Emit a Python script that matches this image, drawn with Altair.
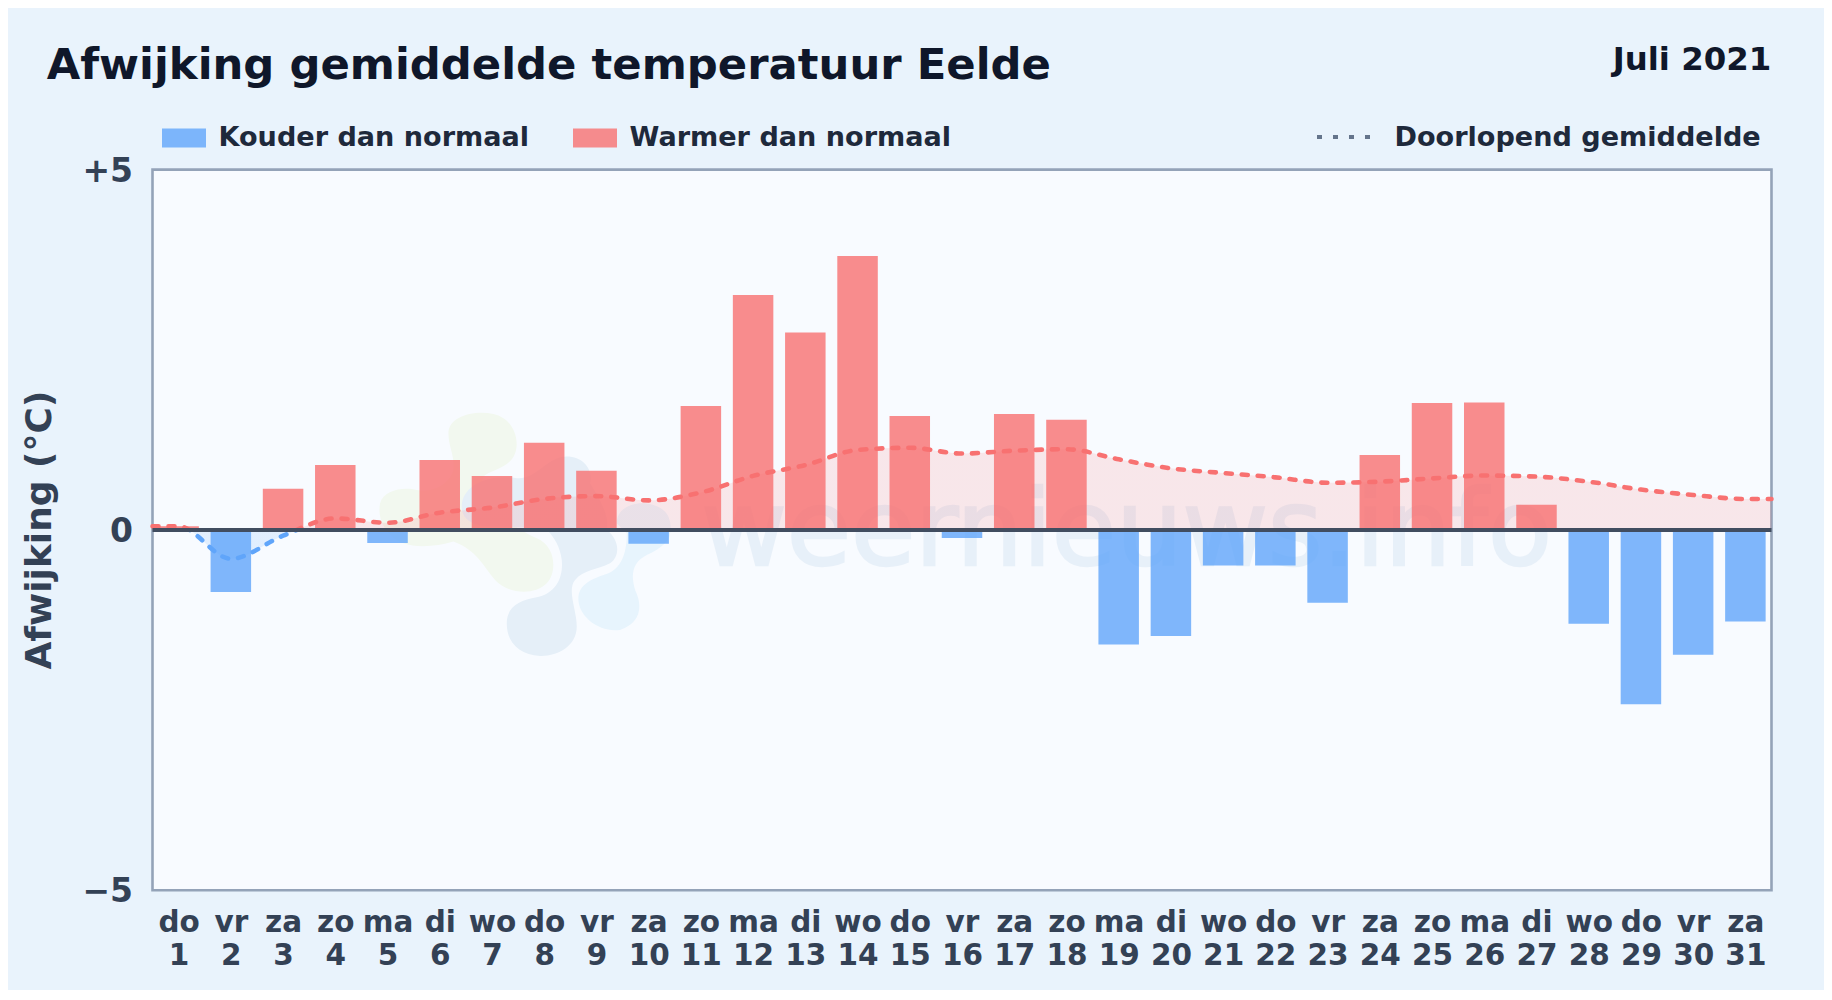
import altair as alt
import pandas as pd

FONT = "DejaVu Sans"
TITLE = "Afwijking gemiddelde temperatuur Eelde"
PERIOD = "Juli 2021"
LEG_COLD = "Kouder dan normaal"
LEG_WARM = "Warmer dan normaal"
LEG_AVG = "Doorlopend gemiddelde"
WATERMARK = "weernieuws.info"

day_names = ["do","vr","za","zo","ma","di","wo","do","vr","za","zo","ma","di","wo","do","vr",
             "za","zo","ma","di","wo","do","vr","za","zo","ma","di","wo","do","vr","za"]
days = list(range(1, 32))
anomaly = [0.05,-0.86,0.57,0.90,-0.18,0.97,0.75,1.21,0.82,-0.19,1.72,3.26,2.74,3.80,1.58,-0.11,
           1.61,1.53,-1.59,-1.47,-0.495,-0.495,-1.01,1.04,1.76,1.77,0.35,-1.30,-2.42,-1.73,-1.27]
avg_days = [0.5] + days + [31.5]
running_avg = [0.05,0.05,-0.40,-0.08,0.16,0.10,0.24,0.31,0.43,0.47,0.41,0.52,0.75,0.90,1.11,1.14,1.06,
               1.10,1.12,0.98,0.855,0.79,0.73,0.655,0.67,0.715,0.755,0.74,0.67,0.56,0.485,0.43,0.43]

# Logo blobs of the watermark (SVG paths)
blob_green = ("M265,130C265,80 340,60 400,72C460,85 480,150 465,190C450,235 390,240 370,260"
              "C350,290 420,400 530,445C590,470 590,550 560,580C520,620 440,610 405,570"
              "C370,530 350,480 280,455C230,470 170,475 130,460C80,440 50,390 60,340"
              "C70,300 130,290 170,300C220,310 270,280 280,240C285,200 265,170 265,130Z")
blob_dark = ("M440,700C440,650 480,630 530,622C590,610 610,560 605,510C600,470 580,440 565,425"
             "L740,420C780,450 780,500 750,520C710,540 670,540 645,570C620,600 650,660 650,710"
             "C650,770 590,800 540,798C480,795 440,760 440,700Z")
blob_top = ("M305,350C305,290 380,250 470,265C530,270 560,200 620,200C670,200 700,240 690,280"
            "C720,330 750,380 740,420L400,410C340,410 305,390 305,350Z")
blob_light = ("M655,620C660,580 700,565 745,550C790,530 800,480 800,430L770,400C770,350 830,330 880,345"
              "C930,360 935,400 930,430C930,450 900,480 860,495C820,515 810,550 825,600"
              "C850,650 840,700 780,720C720,730 650,680 655,620Z")
blobs = [(blob_green, "#f2f8ef"), (blob_dark, "#e5eff8"), (blob_top, "#e5eff8"), (blob_light, "#e7f4fd")]
logo_day = 4.475
logo_val = 1.943

C_COLD = "#60a5fa"
C_WARM = "#f87171"
ZERO_STOP = 1.14 / 1.54

df_bars = pd.DataFrame({
    "day": days,
    "anomaly": anomaly,
    "kind": [LEG_WARM if v >= 0 else LEG_COLD for v in anomaly],
})
df_avg = pd.DataFrame({"day": avg_days, "avg": running_avg})

x_scale = alt.Scale(domain=[0.5, 31.5], nice=False, zero=False, padding=0)
y_scale = alt.Scale(domain=[-5, 5], nice=False)
names_js = "[" + ",".join(f"'{n}'" for n in day_names) + "]"

x_axis = alt.Axis(
    values=days, title=None, grid=False, domain=False, ticks=False,
    labelExpr=f"[{names_js}[datum.value-1], '' + datum.value]",
    labelFont=FONT, labelFontSize=29.5, labelFontWeight="bold", labelColor="#334155",
    labelLineHeight=33, labelPadding=18, labelOverlap=False, labelFlush=False, labelAngle=0,
    labelLimit=100, labelBound=False,
)
y_axis = alt.Axis(
    values=[-5, 0, 5], title="Afwijking (°C)", grid=False, domain=False, ticks=False,
    labelExpr="datum.value > 0 ? '+' + datum.value : (datum.value < 0 ? '\u2212' + abs(datum.value) : '0')",
    labelFont=FONT, labelFontSize=33, labelFontWeight="bold", labelColor="#334155",
    labelPadding=20, labelOverlap=False, labelFlush=False, labelOffset=1.5,
    titleFont=FONT, titleFontSize=36, titleFontWeight="bold", titleColor="#334155",
    titleX=-113, titleY=360, titleAlign="center", titleBaseline="middle", titleAngle=270,
)


def X(field="day:Q"):
    return alt.X(field, scale=x_scale, axis=x_axis)


def Y(field):
    return alt.Y(field, scale=y_scale, axis=y_axis, stack=None)


one = alt.Data(values=[{"a": 1}])


def text_mark(txt, px, py, size, color, align="left", weight="bold"):
    return alt.Chart(one).mark_text(
        text=txt, font=FONT, fontSize=size, fontWeight=weight, color=color, align=align, baseline="alphabetic"
    ).encode(x=alt.value(px), y=alt.value(py))


blob_layers = [
    alt.Chart(alt.Data(values=[{"day": logo_day, "v": logo_val}])).mark_point(
        shape=path, filled=True, fill=col, opacity=1, size=0.4444, strokeWidth=0
    ).encode(x=X(), y=Y("v:Q"))
    for path, col in blobs
]

WM_COLOR = "#1e6bb0"
wm_text = alt.Chart(alt.Data(values=[{"day": 19.15, "v": -0.49, "t": WATERMARK}])).mark_text(
    font=FONT, fontSize=104.6, fontWeight="normal", color=WM_COLOR, stroke=WM_COLOR, strokeWidth=2.5,
    opacity=0.07, align="center", baseline="alphabetic"
).encode(x=X(), y=Y("v:Q"), text="t:N")

area = alt.Chart(df_avg).mark_area(
    interpolate="monotone",
    fill=alt.LinearGradient(
        gradient="linear", x1=0, x2=0, y1=0, y2=1,
        stops=[
            alt.GradientStop(offset=0, color="rgba(248,113,113,0.15)"),
            alt.GradientStop(offset=ZERO_STOP, color="rgba(248,113,113,0.15)"),
            alt.GradientStop(offset=ZERO_STOP, color="rgba(96,165,250,0.15)"),
            alt.GradientStop(offset=1, color="rgba(96,165,250,0.15)"),
        ],
    ),
).encode(x=X(), y=Y("avg:Q"), y2=alt.Y2(datum=0))

bars = alt.Chart(df_bars).mark_bar(size=40.5, opacity=0.8).encode(
    x=X(),
    y=Y("anomaly:Q"),
    color=alt.Color(
        "kind:N",
        scale=alt.Scale(domain=[LEG_COLD, LEG_WARM], range=[C_COLD, C_WARM]),
        legend=alt.Legend(
            title=None, orient="none", direction="horizontal", columns=2, legendX=9.5, legendY=-54,
            symbolType="M-1,-0.43H1V0.43H-1Z", symbolSize=1936, symbolStrokeWidth=0,
            labelFont=FONT, labelFontSize=27.1, labelFontWeight="bold", labelColor="#1e293b",
            labelOffset=12.5, columnPadding=43, labelLimit=400, padding=0,
        ),
    ),
)

line = alt.Chart(df_avg).mark_line(
    interpolate="monotone", strokeWidth=4.6, strokeDash=[6, 10], strokeCap="round",
    stroke=alt.LinearGradient(
        gradient="linear", x1=0, x2=0, y1=0, y2=1,
        stops=[
            alt.GradientStop(offset=0, color=C_WARM),
            alt.GradientStop(offset=ZERO_STOP, color=C_WARM),
            alt.GradientStop(offset=ZERO_STOP, color=C_COLD),
            alt.GradientStop(offset=1, color=C_COLD),
        ],
    ),
).encode(x=X(), y=Y("avg:Q"))

zero_rule = alt.Chart(alt.Data(values=[{"z": 0}])).mark_rule(color="#414d60", strokeWidth=4).encode(
    y=Y("z:Q")
)

legend_rule = alt.Chart(one).mark_rule(color="#64748b", strokeWidth=4, strokeDash=[5, 11]).encode(
    x=alt.value(1164.5), x2=alt.value(1221), y=alt.value(-32.5)
)

chart = alt.layer(
    *blob_layers, wm_text, area, bars, line, zero_rule, legend_rule,
    text_mark(TITLE, -105.8, -90.6, 43.35, "#0f172a"),
    text_mark(PERIOD, 1618.8, -100, 32.4, "#0f172a", align="right"),
    text_mark(LEG_AVG, 1242, -24, 27.1, "#1e293b"),
).properties(
    width=1619, height=720.7,
    padding={"left": 144.5, "top": 161.6, "right": 52, "bottom": 100},
    autosize=alt.AutoSizeParams(type="none"),
    background="#e9f3fc",
).configure_view(
    fill="#f8fbff", stroke="#94a3b8", strokeWidth=2.6
)

chart.save("out.html", embed_options={"renderer": "svg", "actions": False})
